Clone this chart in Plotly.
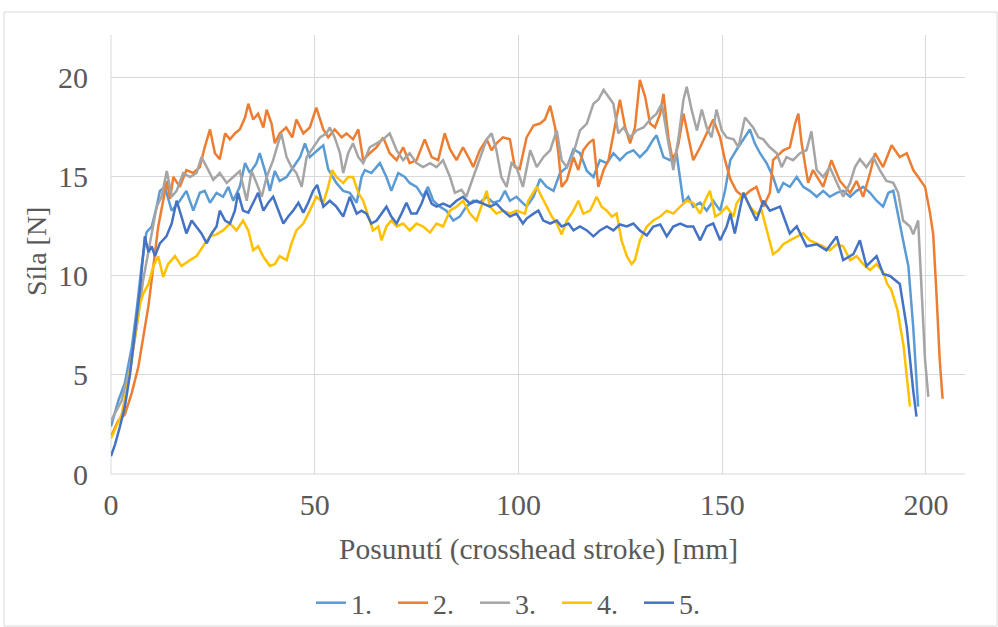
import plotly.graph_objects as go

# ---- data ----
names = ["1.", "2.", "3.", "4.", "5."]
colors = ["#5B9BD5", "#ED7D31", "#A5A5A5", "#FFC000", "#4472C4"]

x1 = [0, 1.8, 3.4, 5.1, 6.3, 7.5, 8.7, 10, 11.2, 12, 13.2, 14.9, 16.1, 16.9, 18.5, 20.2, 21.8, 23, 24.3, 25.9,
      27.5, 28.8, 30, 31.6, 32.9, 34.1, 35.7, 36.5, 37.8, 39, 40.2, 41.4, 43.1, 44.7, 46.4, 47.6, 48.8, 50.4, 52.1,
      53.3, 55.3, 57, 58.6, 60.3, 61.5, 62.3, 63.9, 66, 67.6, 68.8, 70.5, 72.1, 73.3, 75, 76.6, 77.8, 79.1, 80.7,
      82.3, 84, 85.6, 87.2, 88.9, 90.5, 92.2, 93.8, 95.4, 96.7, 97.9, 99.5, 101.1, 102, 103.7, 105.3, 106.9, 108.6,
      110.2, 111.9, 113.5, 115.1, 116.8, 118.4, 120, 121.7, 123.3, 124.9, 126.6, 128.2, 129.8, 131.5, 133.1, 133.9,
      135.6, 137.2, 138.8, 139.7, 140.5, 141.7, 142.9, 144.6, 146.2, 147.8, 149.5, 150.7, 152, 153.6, 155.2, 156.8,
      158, 159.3, 160.9, 162.5, 163.8, 165, 166.6, 168.3, 169.9, 171.5, 173.2, 174.8, 176.4, 178.1, 179.7, 181.4,
      183, 184.6, 186.3, 187.9, 189.5, 190.8, 192, 193.2, 194.4, 195.7, 196.9, 198.1]
y1 = [2.4, 3.7, 4.6, 6.4, 8.3, 10.5, 12.2, 12.5, 13.5, 14.3, 14.5, 13.3, 13.6, 13.8, 14.3, 13.3, 14.2, 14.3, 13.7, 14.2,
      14.0, 14.5, 13.8, 14.5, 15.7, 15.2, 15.7, 16.2, 15.3, 14.3, 15.3, 14.8, 15.0, 15.5, 16.0, 16.7, 16.0, 16.3, 16.6,
      15.4, 14.7, 14.3, 14.2, 13.7, 15.0, 15.35, 15.2, 15.7, 15.0, 14.3, 15.2, 15.0, 14.7, 14.5, 14.0, 14.5, 13.8, 13.5,
      13.3, 12.8, 13.0, 13.5, 13.8, 13.7, 14.0, 13.7, 13.8, 14.3, 13.8, 14.0, 13.7, 13.5, 14.0, 14.9, 14.5, 14.3,
      15.2, 15.5, 16.4, 16.2, 15.3, 15.0, 15.85, 15.7, 16.2, 15.85, 16.2, 16.35, 16.0, 16.35, 16.9, 17.1,
      16.0, 15.85, 16.2, 14.8, 13.7, 14.0, 13.5, 13.7, 13.3, 13.8, 13.3, 14.3, 15.85, 16.4, 16.9, 17.4,
      16.7, 16.2, 15.7, 15.0, 14.2, 14.7, 14.5, 15.0, 14.5, 14.3, 14.0, 14.3, 14.0, 14.2, 14.3, 14.0,
      14.3, 14.5, 14.2, 13.8, 13.5, 14.2, 14.3, 13.0, 11.8, 10.5, 7.4, 3.4]

x2 = [0, 1.8, 3.4, 5.1, 6.7, 7.9, 9.2, 10.4, 11.6, 12.8, 13.7, 14.5, 15.3, 16.9, 18.5, 20.2, 21.8, 23, 24.3, 25.5,
      26.7, 28, 29.2, 30.4, 31.6, 32.9, 33.7, 34.9, 36.1, 37.4, 38.2, 39.4, 40.2, 41.4, 43, 44.5, 45.5, 47.2, 48.8,
      50.4, 52.1, 53.3, 54.9, 56.6, 57.8, 59.4, 60.7, 61.9, 63.5, 65.2, 66.8, 68.4, 70.1, 71.7, 73.3, 75, 77, 78.7,
      80.3, 81.9, 83.2, 84.8, 86.4, 88.1, 88.9, 90.5, 92.2, 93.4, 94.6, 96.2, 97.9, 99.1, 100.3, 102, 103.7, 105.3,
      106.5, 107.8, 109, 109.8, 110.6, 111.9, 113.5, 114.7, 115.9, 117.2, 118.4, 119.6, 120.9, 122.1, 123.7, 124.9,
      126.2, 127.4, 128.6, 129.8, 131.1, 132.3, 133.5, 134.8, 135.6, 136.8, 138, 139.3, 140.5, 141.7, 142.9, 144.6,
      146.2, 147.8, 149.5, 150.7, 152, 153.5, 155.2, 156.8, 158.4, 160.1, 161.7, 162.5, 165, 166.6, 167.9, 168.7,
      169.5, 171.1, 172.3, 174.8, 176.8, 178.9, 181.4, 183, 184.6, 186.3, 187.5, 189.5, 191.6, 193.6, 195.3, 196.9,
      198.1, 199.8, 201, 201.8, 202.6, 203.4, 204.1]
y2 = [1.9, 2.7, 3.0, 4.1, 5.4, 6.8, 8.5, 10.5, 12.5, 13.8, 14.8, 13.9, 15.0, 14.5, 15.35, 15.2, 15.5, 16.5, 17.4, 16.2,
      15.9, 17.2, 16.9, 17.2, 17.4, 18.0, 18.7, 17.9, 18.2, 17.5, 18.4, 17.7, 16.7, 17.2, 17.5, 17.0, 17.9, 17.2, 17.5,
      18.5, 17.4, 17.0, 17.4, 17.0, 17.2, 16.9, 17.4, 15.85, 16.2, 16.5, 17.0, 16.2, 15.85, 16.5, 15.7, 15.85, 16.9, 16.0,
      15.85, 17.2, 16.4, 15.85, 16.5, 15.85, 15.5, 16.35, 16.9, 16.35, 16.7, 17.0, 16.9, 15.5, 15.4, 17.0, 17.6, 17.7,
      17.9, 18.6, 17.5, 16.2, 14.5, 14.85, 16.0, 15.35, 16.35, 16.7, 16.9, 14.5, 15.35, 15.85, 17.5, 18.9,
      17.5, 16.7, 17.5, 19.9, 19.05, 17.7, 17.5, 18.2, 19.2, 17.0, 15.7, 16.7, 18.2, 17.0, 15.85, 16.5,
      17.2, 17.9, 17.0, 15.85, 14.9, 14.3, 14.0, 14.3, 14.5, 13.5, 14.2, 15.85, 16.35, 16.5, 17.7, 18.2,
      16.7, 14.7, 15.35, 14.5, 15.85, 14.8, 14.2, 14.8, 14.0, 15.2, 16.2, 15.5, 16.6, 16.0, 16.2, 15.35,
      15.0, 14.5, 13.2, 12.1, 9.1, 5.75, 3.8]

x3 = [0, 2.6, 4.7, 6.3, 7.9, 9.6, 11.2, 12.4, 13.7, 14.9, 16.1, 17.7, 19.4, 21, 22.2, 23.5, 25.1, 26.7, 28.4, 30,
      31.6, 33.3, 34.5, 35.7, 37, 38.2, 39.8, 41, 41.8, 43.1, 44.3, 45.5, 46.8, 48, 49.6, 51.3, 52.9, 53.7, 54.9,
      56.2, 57, 58.2, 59.4, 60.7, 61.9, 63.5, 65.2, 66.8, 68.4, 70.1, 71.7, 73.3, 75, 76.6, 78.3, 79.9, 81.5, 83.2,
      84.4, 86, 87.2, 88.9, 90.5, 92.2, 93.4, 94.6, 95.8, 97.1, 98.3, 99.5, 101.1, 102.9, 104.5, 106.1, 107.8, 109.4,
      110.6, 111.9, 113.5, 115.1, 116.8, 118.4, 119.6, 120.9, 122.1, 123.3, 124.5, 125.8, 127.4, 129, 130.7, 132.3,
      133.9, 135.2, 136.4, 138, 139.3, 140.5, 141.3, 142.5, 143.8, 145, 146.2, 147.4, 148.6, 149.9, 151.1, 152.8,
      154, 155.6, 156.8, 157.6, 158.9, 160.1, 161.7, 163.4, 164.6, 165.8, 167.4, 169.1, 170.7, 171.9, 173.2, 174.8,
      176.4, 178.1, 179.7, 181.4, 182.6, 183.8, 185.4, 187.1, 188.7, 190.3, 192, 193.2, 194.4, 196.1, 196.9, 198.1,
      198.9, 199.8, 200.6]
y3 = [2.7, 3.7, 5.4, 7.4, 9.8, 11.8, 13.5, 14.0, 15.3, 14.0, 14.3, 15.2, 15.0, 15.2, 16.0, 15.5, 14.85, 15.2, 14.7, 15.0,
      15.3, 13.8, 15.3, 14.7, 14.0, 15.0, 15.85, 16.7, 17.2, 16.0, 15.5, 15.2, 14.5, 16.0, 16.5, 17.0, 17.2, 17.5, 17.0,
      16.2, 15.2, 16.2, 16.7, 16.0, 15.7, 16.5, 16.7, 16.9, 17.2, 16.35, 15.85, 16.2, 15.7, 15.5, 15.7, 15.5, 15.85, 15.0,
      14.2, 14.35, 14.0, 15.0, 15.85, 16.9, 17.2, 16.35, 15.0, 14.5, 15.7, 15.5, 14.5, 16.35, 15.5, 16.0, 16.35, 17.35,
      15.85, 15.5, 16.2, 17.35, 17.7, 18.7, 18.9, 19.4, 19.05, 18.7, 17.2, 17.5, 17.0, 17.35, 17.5, 17.9,
      18.2, 18.7, 17.2, 15.35, 17.0, 18.9, 19.55, 18.4, 17.35, 18.4, 17.5, 17.0, 18.4, 17.35, 17.0, 16.9,
      16.5, 18.0, 17.7, 17.5, 17.0, 16.9, 16.5, 16.2, 15.5, 16.0, 15.85, 16.2, 16.35, 17.3, 15.35, 15.0,
      15.5, 14.7, 14.0, 14.7, 15.5, 15.9, 15.5, 16.0, 15.35, 14.8, 14.7, 14.2, 12.8, 12.5, 12.1, 12.8,
      9.1, 5.75, 3.9]

x4 = [0, 1.2, 2.6, 4.3, 5.9, 7.1, 7.9, 9.2, 10.4, 11.6, 12.8, 14, 15.7, 17.3, 19.4, 21, 22.6, 24.3, 25.9, 27.5,
      29.2, 30.8, 32.4, 33.7, 34.9, 36.1, 37.4, 39, 40.2, 41.4, 43.1, 44.3, 45.5, 47.2, 48.8, 50.4, 52.1, 53.3, 54.3,
      55.3, 57, 58.2, 59.4, 60.7, 61.9, 63.1, 64.3, 65.6, 66.4, 67.6, 68.8, 70.1, 71.7, 73.3, 75, 76.6, 78.3, 79.9,
      81.5, 83.2, 84.8, 86.4, 88.1, 89.7, 91.3, 92.2, 93, 94.6, 96.2, 97.9, 99.5, 101.6, 102.4, 104.5, 105.7, 106.9,
      108.2, 109.4, 110.6, 111.9, 113.5, 114.7, 115.9, 117.6, 119.2, 120.4, 121.7, 122.9, 124.1, 125.3, 126.6, 127.8,
      128.6, 129.8, 131.5, 133.1, 134.8, 136.4, 138, 139.7, 141.3, 142.9, 144.6, 145.8, 147, 148.3, 149.5, 151.1,
      152.8, 153.5, 155.2, 156.8, 158.4, 159.7, 160.9, 162.5, 163.8, 165, 166.6, 168.3, 169.9, 171.5, 173.2, 174.8,
      176.4, 178.1, 179.7, 181.4, 183, 184.6, 186.3, 187.9, 189.5, 190.5, 191.5, 193, 194.5, 196.1]
y4 = [1.8, 2.4, 3.0, 4.7, 6.9, 8.6, 9.1, 9.6, 10.5, 11.0, 9.95, 10.6, 11.0, 10.5, 10.8, 11.0, 11.5, 12.0, 12.1, 12.3,
      12.65, 12.3, 12.8, 12.3, 11.3, 11.5, 10.97, 10.5, 10.6, 11.0, 10.8, 11.65, 12.3, 12.65, 13.3, 14.0, 13.7, 14.5, 15.35,
      15.0, 14.7, 15.0, 15.0, 14.2, 13.8, 13.0, 12.3, 12.5, 11.8, 12.5, 12.8, 12.5, 12.65, 12.3, 12.65, 12.5, 12.2, 12.65,
      12.5, 13.3, 13.5, 13.8, 13.15, 12.8, 13.8, 14.3, 13.5, 13.15, 13.3, 13.15, 13.3, 13.15, 13.8, 14.5, 14.0, 13.5,
      13.0, 12.65, 12.1, 12.8, 13.3, 13.8, 13.15, 13.3, 14.0, 13.5, 13.3, 13.0, 13.15, 11.8, 11.0, 10.6,
      10.8, 11.8, 12.5, 12.8, 13.0, 13.3, 13.15, 13.5, 13.8, 13.7, 13.15, 13.8, 14.3, 13.0, 13.15, 13.5,
      13.0, 13.65, 14.2, 13.5, 13.15, 13.3, 12.3, 11.1, 11.3, 11.6, 11.8, 12.0, 12.15, 11.8, 11.65, 11.5,
      11.3, 11.6, 11.5, 10.8, 11.0, 10.6, 10.3, 10.6, 10.2, 9.6, 9.3, 8.3, 6.5, 3.4]

x5 = [0, 1, 2.2, 3.4, 4.7, 5.9, 7.1, 8.3, 9.2, 10, 10.8, 12, 13.6, 14.9, 16.1, 17.3, 18.5, 19.8, 21, 22.2,
      23.5, 24.7, 25.9, 26.7, 28, 29.2, 30.4, 31.2, 32.4, 33.7, 34.9, 36.1, 37.4, 38.6, 39.8, 41, 42.3, 43.5, 44.7,
      46, 47.2, 48.4, 49.6, 50.6, 52.1, 53.7, 55.3, 57, 58.6, 60.3, 61.5, 62.7, 63.9, 65.2, 66.4, 67.6, 68.8, 70.1,
      71.3, 72.5, 73.7, 75, 76.2, 77.4, 78.7, 79.9, 81.5, 83.2, 84.8, 86.4, 88.1, 89.7, 91.3, 93, 94.6, 96.2, 97.9,
      99.5, 101.1, 102, 103.7, 104.9, 106.1, 107.8, 109.4, 110.6, 112.3, 113.5, 115.1, 116.8, 118.4, 120, 121.7,
      123.3, 124.9, 126.6, 128.2, 129.8, 131.5, 133.1, 134.8, 136.4, 138, 139.7, 141.3, 142.9, 144.6, 146.2, 147.8,
      149.5, 151.1, 152, 153.1, 155.2, 156.8, 158.4, 160.1, 161.7, 164.2, 166.6, 168.3, 170.7, 173.2, 175.6, 178.1,
      179.7, 182.2, 183.8, 185.4, 187.9, 189.5, 191.2, 193.6, 195.3, 196.9, 197.7]
y5 = [0.9, 1.5, 2.4, 3.4, 5.1, 7.1, 9.3, 12.0, 11.2, 11.5, 11.0, 11.65, 12.0, 12.65, 13.8, 13.0, 12.15, 12.8, 12.5, 12.15,
      11.65, 12.15, 12.5, 13.3, 12.8, 12.65, 13.3, 14.2, 13.3, 13.2, 13.7, 14.2, 13.3, 13.7, 14.0, 13.3, 12.65, 13.0, 13.3,
      13.7, 13.2, 13.7, 14.3, 14.6, 13.5, 13.8, 13.5, 13.0, 14.0, 13.15, 13.3, 13.15, 12.65, 12.8, 13.15, 13.5, 13.0, 12.65,
      13.15, 13.7, 13.15, 13.15, 13.65, 14.3, 13.65, 13.5, 13.65, 13.5, 13.8, 14.0, 13.65, 13.8, 13.65, 13.5, 13.65, 13.3, 13.0,
      13.15, 12.65, 12.9, 13.15, 13.3, 12.8, 12.65, 12.8, 12.5, 12.65, 12.3, 12.5, 12.3, 12.0, 12.3, 12.5,
      12.3, 12.6, 12.5, 12.65, 12.3, 12.05, 12.5, 12.6, 12.0, 12.5, 12.65, 12.5, 12.5, 11.8, 12.5, 12.65,
      11.8, 12.5, 13.15, 12.15, 14.2, 13.5, 12.8, 13.8, 13.3, 13.5, 12.15, 12.5, 11.5, 11.6, 11.3, 12.0,
      10.8, 11.1, 11.8, 10.5, 11.0, 10.1, 10.0, 9.6, 7.4, 4.2, 2.9]

x_ticks = [0, 50, 100, 150, 200]
y_ticks = [0, 5, 10, 15, 20]
x_title = "Posunutí (crosshead stroke) [mm]"
y_title = "Síla [N]"

# ---- figure ----
FONT = "Liberation Serif"
TXT = "#595959"
GRID = "#D9D9D9"
W, H = 998, 627

fig = go.Figure()
for nm, xs, ys, col in zip(names, [x1, x2, x3, x4, x5], [y1, y2, y3, y4, y5], colors):
    fig.add_trace(go.Scatter(x=xs, y=ys, mode="lines", name=nm,
                             line=dict(color=col, width=2.5)))

fig.update_layout(
    width=W, height=H,
    margin=dict(l=111, r=33, t=35, b=153, pad=0, autoexpand=False),
    paper_bgcolor="white", plot_bgcolor="white",
    font=dict(family=FONT, size=28, color=TXT),
    showlegend=True,
    legend=dict(orientation="h", xref="container", yref="container",
                x=311 / W, xanchor="left", y=1 - 603 / H, yanchor="middle",
                font=dict(family=FONT, size=28, color=TXT), itemwidth=30,
                entrywidth=37, entrywidthmode="pixels",
                traceorder="normal", bgcolor="rgba(0,0,0,0)"),
    xaxis=dict(range=[0, 209.6], tickmode="array", tickvals=x_ticks,
               showgrid=True, gridcolor=GRID, gridwidth=1,
               zeroline=False, showline=False, ticks="",
               tickfont=dict(family=FONT, size=30, color=TXT), ticklabelstandoff=10),
    yaxis=dict(range=[0, 22.17], tickmode="array", tickvals=y_ticks,
               showgrid=True, gridcolor=GRID, gridwidth=1,
               zeroline=False, showline=False, ticks="",
               tickfont=dict(family=FONT, size=30, color=TXT), ticklabelstandoff=22),
    annotations=[
        dict(text=x_title, xref="paper", yref="paper", x=0.5, y=(474 - 549) / 439,
             xanchor="center", yanchor="middle", showarrow=False,
             font=dict(family=FONT, size=29.5, color=TXT)),
        dict(text=y_title, xref="paper", yref="paper", x=(37 - 111) / 854, y=(474 - 252) / 439,
             xanchor="center", yanchor="middle", showarrow=False, textangle=-90,
             font=dict(family=FONT, size=28, color=TXT)),
    ],
    shapes=[
        dict(type="line", xref="paper", yref="paper", x0=0, x1=1, y0=0, y1=0,
             line=dict(color=GRID, width=1), layer="below"),
        dict(type="line", xref="paper", yref="paper", x0=0, x1=0, y0=0, y1=1,
             line=dict(color=GRID, width=1), layer="below"),
        dict(type="rect", xref="paper", yref="paper",
             x0=(4 - 111) / 854, x1=(997 - 111) / 854, y0=(474 - 626) / 439, y1=(474 - 12) / 439,
             line=dict(color=GRID, width=1), fillcolor="rgba(0,0,0,0)", layer="below"),
    ],
)

fig.write_html("out.html")
